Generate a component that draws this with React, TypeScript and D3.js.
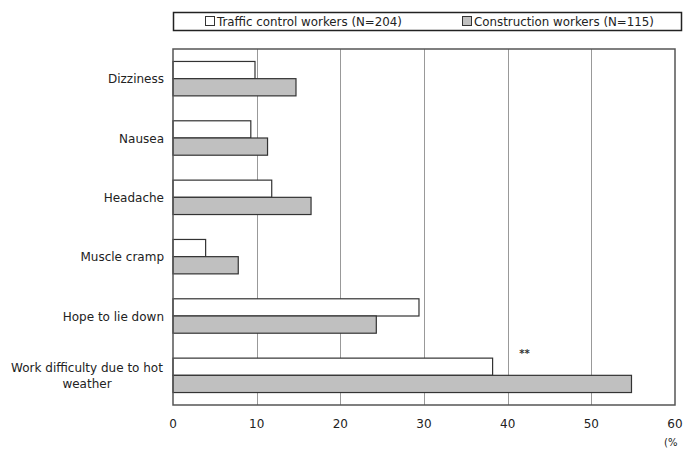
import React from "react";
import * as d3 from "d3";

const categories = [
  "Dizziness",
  "Nausea",
  "Headache",
  "Muscle cramp",
  "Hope to lie down",
  "Work difficulty due to hot weather",
];
const categoryLines = [
  ["Dizziness"],
  ["Nausea"],
  ["Headache"],
  ["Muscle cramp"],
  ["Hope to lie down"],
  ["Work difficulty due to hot", "weather"],
];
const trafficValues = [9.8, 9.3, 11.8, 3.9, 29.4, 38.2];
const constructionValues = [14.7, 11.3, 16.5, 7.8, 24.3, 54.8];
const seriesNames = ["Traffic control workers (N=204)", "Construction workers (N=115)"];
const xTicks = [0, 10, 20, 30, 40, 50, 60];
const significanceMark = { index: 5, value: 42, label: "**" };

const W = 690;
const H = 450;
const left = 173;
const right = 675;
const top = 49;
const bottom = 405;
const font = "'DejaVu Sans', sans-serif";

export default function App() {
  const x = d3.scaleLinear().domain([0, 60]).range([left, right]);
  const y = d3.scaleBand<string>().domain(categories).range([top, bottom]).paddingInner(0.42).paddingOuter(0.21);
  const bh = y.bandwidth() / 2;

  return (
    <svg width={W} height={H} style={{ position: "absolute", left: 0, top: 0, background: "#fff" }}>
      <rect x={0} y={0} width={W} height={H} fill="#fff" />
      {/* Legend */}
      <rect x={173.5} y={12.5} width={508} height={18} fill="#fff" stroke="#222" strokeWidth={1.5} />
      <rect x={205.5} y={16.5} width={9} height={9} fill="#fff" stroke="#333" strokeWidth={1} />
      <text x={217} y={25.5} fontFamily={font} fontSize={11.5} textLength={185} lengthAdjust="spacingAndGlyphs" fill="#222">{seriesNames[0]}</text>
      <rect x={462.5} y={16.5} width={9} height={9} fill="#c0c0c0" stroke="#333" strokeWidth={1} />
      <text x={474} y={25.5} fontFamily={font} fontSize={11.5} textLength={180} lengthAdjust="spacingAndGlyphs" fill="#222">{seriesNames[1]}</text>

      {/* Grid */}
      {xTicks.slice(1, -1).map((t) => (
        <line key={t} x1={Math.round(x(t)) + 0.5} x2={Math.round(x(t)) + 0.5} y1={top} y2={bottom} stroke="#999" strokeWidth={1} />
      ))}

      {/* Bars */}
      {categories.map((c, i) => (
        <g key={c}>
          <rect x={x(0)} y={y(c)!} width={x(trafficValues[i]) - x(0)} height={bh} fill="#fff" stroke="#333" strokeWidth={1.2} />
          <rect x={x(0)} y={y(c)! + bh} width={x(constructionValues[i]) - x(0)} height={bh} fill="#c0c0c0" stroke="#333" strokeWidth={1.2} />
        </g>
      ))}

      {/* Frame */}
      <rect x={left} y={top} width={right - left} height={bottom - top} fill="none" stroke="#555" strokeWidth={1.5} />

      {/* Significance */}
      <text x={x(significanceMark.value)} y={y(categories[significanceMark.index])! - 1} textAnchor="middle" fontFamily={font} fontSize={10} fontWeight="bold" fill="#333">
        {significanceMark.label}
      </text>

      {/* Category labels */}
      {categories.map((c, i) => {
        const lines = categoryLines[i];
        const cy = y(c)! + y.bandwidth() / 2;
        if (lines.length === 1) {
          return (
            <text key={c} x={164} y={cy + 4.5} textAnchor="end" fontFamily={font} fontSize={12} fill="#222">{lines[0]}</text>
          );
        }
        return (
          <g key={c}>
            {lines.map((ln, k) => (
              <text key={k} x={87} y={cy - 3 + k * 16} textAnchor="middle" fontFamily={font} fontSize={12} fill="#222">{ln}</text>
            ))}
          </g>
        );
      })}

      {/* X tick labels */}
      {xTicks.map((t) => (
        <text key={t} x={x(t)} y={428} textAnchor="middle" fontFamily={font} fontSize={12} fill="#222">{t}</text>
      ))}
      <text x={664} y={446} fontFamily={font} fontSize={10} fill="#222">(%</text>
    </svg>
  );
}
